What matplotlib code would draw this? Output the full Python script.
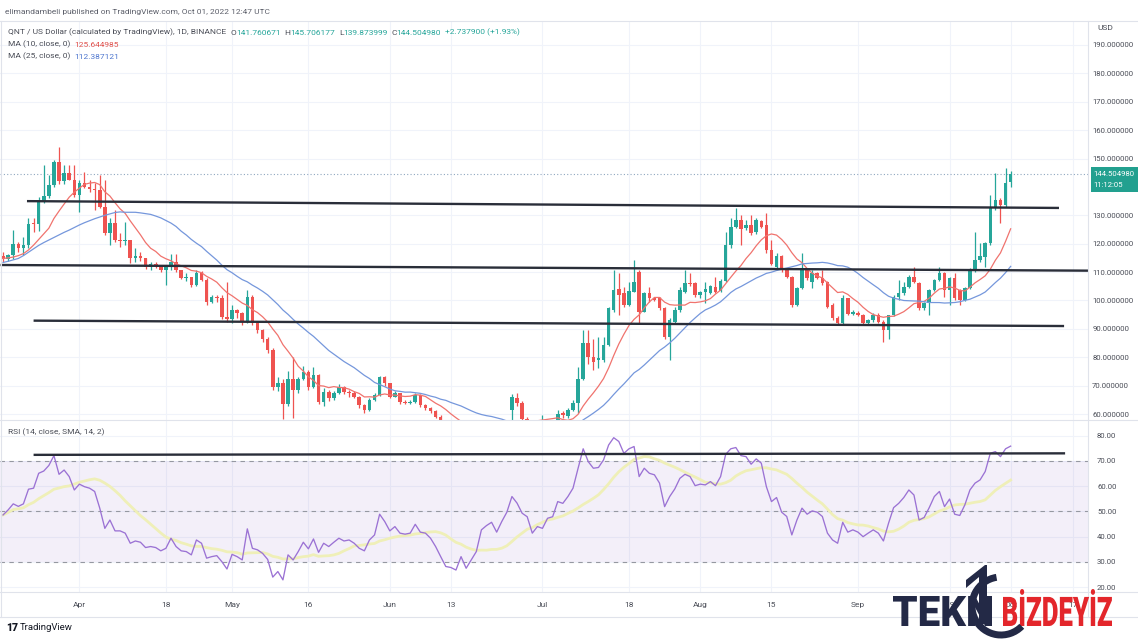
import numpy as np
import pandas as pd
import matplotlib
matplotlib.use("Agg")
import matplotlib.pyplot as plt
from matplotlib.patches import Rectangle, PathPatch, Arc, Polygon
from matplotlib.textpath import TextPath
from matplotlib.font_manager import FontProperties
from matplotlib.transforms import Affine2D
from matplotlib.lines import Line2D

plt.rcParams['font.family'] = ['Roboto', 'DejaVu Sans']

# ---------------- data (QNT/USD daily, 2022-03-17 .. 2022-10-01) ----------------
start_date = "2022-03-17"

opens = [115.5, 114.5, 116.0, 120.0, 118.5, 119.5, 127.0, 126.8, 134.8, 136.8,
         140.7, 148.9, 142.0, 144.8, 142.6, 137.1, 141.3, 140.1, 139.2, 139.0,
         133.1, 123.6, 127.2, 121.3, 120.8, 121.3, 114.8, 115.5, 114.8, 111.9,
         112.8, 112.3, 110.7, 112.1, 113.7, 110.7, 107.8, 108.3, 105.4, 109.6,
         107.2, 99.6, 101.3, 100.8, 94.3, 93.5, 96.6, 95.5, 92.5, 101.3,
         92.0, 89.6, 86.6, 82.5, 69.6, 71.0, 63.7, 72.5, 68.4, 72.5,
         74.9, 69.6, 73.7, 64.3, 67.9, 65.5, 67.3, 69.6, 67.6, 67.3,
         66.1, 63.2, 61.4, 64.9, 66.7, 73.1, 70.8, 66.1, 67.3, 64.3,
         64.0, 64.3, 66.7, 63.2, 62.3, 61.0, 59.0, 56.5, 54.5, 49.0,
         50.5, 51.5, 48.0, 47.0, 48.5, 52.0, 53.0, 54.0, 53.5, 55.0,
         61.4, 65.5, 63.9, 58.4, 57.0, 55.5, 56.0, 56.5, 56.0, 57.5,
         60.2, 59.2, 61.4, 64.0, 72.5, 84.9, 80.2, 79.0, 79.0, 84.3,
         96.6, 103.9, 102.5, 98.4, 103.1, 110.1, 96.0, 102.5, 100.7, 100.7,
         97.2, 87.2, 92.5, 96.6, 103.1, 106.3, 106.0, 101.9, 103.1, 102.7,
         104.8, 103.4, 107.0, 119.5, 126.0, 128.3, 125.4, 126.6, 124.2, 128.1,
         126.6, 117.8, 111.9, 115.6, 110.7, 108.4, 98.4, 104.3, 110.7, 106.6,
         109.6, 107.8, 106.6, 98.4, 93.7, 91.9, 100.7, 95.4, 95.7, 94.9,
         91.9, 93.1, 94.9, 92.5, 89.6, 94.9, 101.3, 102.5, 104.8, 108.4,
         106.0, 97.2, 99.0, 103.7, 107.2, 109.6, 103.7, 107.8, 103.7, 100.2,
         104.3, 110.7, 114.2, 115.4, 120.1, 132.8, 135.4, 133.6, 141.760671]

highs = [117.0, 116.5, 125.0, 120.5, 122.5, 129.0, 129.0, 136.6, 147.7, 144.2,
         149.5, 154.2, 147.7, 147.7, 147.7, 142.4, 145.4, 142.4, 141.3, 144.2,
         142.4, 129.0, 131.8, 123.6, 127.8, 121.3, 118.4, 117.0, 115.0, 113.7,
         113.5, 112.5, 112.3, 116.5, 116.5, 110.7, 109.6, 108.3, 110.7, 110.5,
         107.8, 102.0, 102.0, 101.8, 106.6, 98.5, 97.0, 96.0, 103.7, 101.8,
         92.5, 90.0, 87.0, 83.1, 73.0, 72.5, 75.0, 80.0, 73.0, 77.0,
         75.5, 76.5, 74.0, 69.0, 68.5, 68.0, 70.5, 70.0, 68.5, 68.0,
         66.5, 63.5, 65.5, 67.5, 73.5, 73.5, 71.0, 68.0, 67.5, 65.0,
         65.0, 67.5, 67.0, 63.5, 62.5, 61.5, 59.5, 57.0, 55.0, 52.5,
         53.5, 52.0, 49.5, 50.0, 53.0, 54.5, 55.5, 55.5, 56.0, 57.5,
         67.0, 67.5, 64.5, 58.8, 57.5, 57.0, 59.5, 57.5, 57.8, 61.5,
         61.0, 62.0, 65.0, 76.7, 89.6, 89.6, 86.6, 87.2, 87.2, 97.8,
         110.7, 109.6, 104.8, 106.6, 114.2, 110.7, 103.0, 104.8, 101.0, 101.3,
         97.8, 94.0, 97.8, 104.8, 110.7, 109.6, 106.6, 103.5, 106.6, 105.5,
         108.4, 107.5, 124.2, 128.9, 132.7, 130.1, 128.3, 130.1, 128.9, 128.5,
         130.7, 121.3, 116.6, 116.0, 111.0, 108.6, 104.8, 116.6, 111.0, 110.7,
         110.2, 110.7, 107.0, 99.0, 94.5, 101.9, 101.0, 96.5, 96.2, 95.2,
         93.5, 95.5, 95.5, 93.0, 95.0, 101.8, 107.2, 106.6, 109.0, 111.9,
         106.5, 99.5, 104.2, 107.5, 111.9, 110.0, 108.2, 109.6, 104.0, 104.8,
         111.3, 124.2, 120.1, 120.7, 137.2, 144.8, 136.0, 146.5, 145.706177]

lows = [113.5, 114.0, 114.5, 117.0, 116.0, 118.5, 124.0, 124.5, 134.5, 136.2,
        140.0, 141.2, 141.2, 142.4, 136.6, 131.2, 139.5, 138.3, 131.8, 132.5,
        123.0, 119.5, 120.7, 119.0, 119.5, 113.1, 113.7, 114.0, 111.0, 110.7,
        111.5, 110.0, 105.4, 110.7, 110.2, 107.5, 107.0, 104.8, 105.0, 106.8,
        98.5, 99.0, 99.5, 93.5, 92.5, 92.0, 94.0, 91.5, 92.0, 91.5,
        88.5, 85.5, 81.5, 68.5, 68.0, 58.4, 63.0, 58.5, 67.5, 72.0,
        68.5, 69.0, 63.5, 63.0, 64.5, 65.0, 67.0, 67.0, 66.0, 65.5,
        62.0, 60.5, 61.0, 64.5, 66.5, 70.0, 65.5, 66.0, 63.5, 63.5,
        63.5, 64.0, 62.5, 61.5, 60.5, 58.5, 55.0, 53.0, 47.0, 48.0,
        49.5, 47.0, 45.0, 44.5, 48.0, 51.0, 52.5, 52.5, 53.0, 54.5,
        57.0, 63.0, 57.0, 55.5, 54.5, 55.0, 55.5, 55.0, 55.5, 57.0,
        58.5, 58.5, 61.0, 60.2, 72.0, 77.8, 75.5, 76.1, 78.4, 84.0,
        96.0, 94.9, 97.8, 98.0, 103.0, 91.9, 96.0, 99.6, 99.8, 96.8,
        86.6, 79.0, 92.0, 96.0, 102.5, 105.0, 101.3, 101.0, 99.0, 102.3,
        102.5, 103.0, 106.5, 118.5, 125.5, 119.5, 125.0, 123.1, 123.5, 125.5,
        116.6, 112.5, 110.7, 110.1, 107.8, 97.8, 98.0, 104.0, 107.3, 104.3,
        107.5, 105.5, 97.2, 93.1, 91.2, 91.3, 95.0, 95.0, 94.5, 91.5,
        91.5, 92.5, 92.0, 85.5, 86.6, 94.5, 100.2, 101.9, 104.5, 106.0,
        96.8, 96.6, 94.9, 103.3, 107.0, 101.3, 98.4, 100.2, 98.4, 99.8,
        104.0, 110.2, 113.6, 111.9, 119.5, 131.9, 127.2, 133.0, 139.873999]

closes = [114.5, 116.0, 120.0, 118.5, 119.5, 127.0, 126.8, 134.8, 136.8, 140.7,
          148.9, 142.0, 144.8, 142.6, 137.1, 141.3, 140.1, 139.2, 139.0, 133.1,
          123.6, 127.2, 121.3, 120.8, 121.3, 114.8, 115.5, 114.8, 111.9, 112.8,
          112.3, 110.7, 112.1, 113.7, 110.7, 107.8, 108.3, 105.4, 109.6, 107.2,
          99.6, 101.3, 100.8, 94.3, 93.5, 96.6, 95.5, 92.5, 101.3, 92.0,
          89.6, 86.6, 82.5, 69.6, 71.0, 63.7, 72.5, 68.4, 72.5, 74.9,
          69.6, 73.7, 64.3, 67.9, 65.5, 67.3, 69.6, 67.6, 67.3, 66.1,
          63.2, 61.4, 64.9, 66.7, 73.1, 70.8, 66.1, 67.3, 64.3, 64.0,
          64.3, 66.7, 63.2, 62.3, 61.0, 59.0, 56.5, 54.5, 49.0, 50.5,
          51.5, 48.0, 47.0, 48.5, 52.0, 53.0, 54.0, 53.5, 55.0, 57.0,
          66.1, 63.9, 58.4, 57.0, 55.5, 56.0, 56.5, 56.0, 57.5, 60.0,
          59.6, 61.4, 64.0, 72.5, 84.9, 80.2, 78.4, 79.6, 84.3, 97.2,
          103.7, 101.9, 98.4, 103.3, 106.6, 96.0, 102.7, 100.7, 100.2, 97.2,
          87.2, 93.1, 96.6, 103.7, 106.3, 105.8, 101.9, 103.1, 103.9, 105.1,
          103.1, 107.0, 119.5, 126.0, 128.3, 125.2, 126.6, 123.6, 128.3, 126.0,
          117.8, 113.0, 115.6, 110.7, 108.4, 98.4, 104.3, 110.7, 107.8, 109.6,
          107.8, 106.0, 97.8, 93.7, 91.9, 100.7, 95.4, 96.0, 94.9, 91.9,
          93.1, 94.9, 92.5, 89.6, 94.9, 101.3, 102.7, 104.8, 108.4, 106.6,
          97.2, 99.0, 103.7, 107.2, 109.6, 103.7, 107.8, 100.7, 100.2, 104.3,
          110.7, 114.2, 115.6, 120.1, 132.8, 135.4, 133.6, 141.3, 144.504980]

# moving-average values at the very start of the window (need history before it)
ma10_head = [114.8, 115.0, 115.3, 115.8, 116.5, 117.8, 119.5, 121.5, 123.5]
ma25_head = [113.4, 113.8, 114.3, 114.8, 115.8, 117.0, 118.2, 119.4, 120.4, 121.3,
             122.2, 123.1, 124.0, 124.8, 125.7, 126.6, 127.4, 128.1, 128.8, 129.4,
             130.0, 130.5, 131.0, 131.2]

rsi = [48.6, 50.6, 53.0, 52.0, 53.0, 58.8, 59.2, 65.1, 66.0, 68.2,
       72.1, 64.7, 66.4, 63.8, 58.5, 60.8, 59.8, 59.2, 57.9, 51.3,
       43.3, 46.6, 42.3, 42.3, 41.4, 37.4, 38.3, 37.8, 35.7, 36.1,
       35.7, 34.4, 35.4, 39.4, 36.1, 34.4, 34.1, 32.8, 38.7, 37.4,
       31.5, 32.1, 32.5, 30.1, 27.2, 33.0, 32.1, 30.8, 43.1, 35.4,
       34.8, 33.4, 31.0, 24.0, 26.2, 22.9, 32.8, 30.8, 34.1, 37.8,
       35.2, 39.1, 33.8, 37.4, 36.1, 37.8, 39.4, 38.3, 38.7, 37.4,
       35.4, 34.4, 38.7, 40.7, 48.9, 46.0, 42.3, 44.0, 41.4, 41.0,
       41.4, 44.9, 41.8, 41.4, 39.4, 36.1, 32.1, 28.2, 27.8, 26.8,
       32.1, 27.5, 30.8, 34.1, 42.7, 44.4, 45.7, 41.8, 46.0, 49.7,
       55.9, 53.3, 49.3, 47.9, 41.4, 44.0, 43.3, 47.3, 47.9, 53.9,
       53.2, 55.9, 59.2, 67.1, 74.8, 69.7, 67.1, 67.4, 70.4, 76.3,
       79.2, 77.7, 73.0, 74.8, 75.7, 63.8, 67.1, 65.1, 64.5, 61.2,
       51.9, 55.9, 58.9, 63.1, 64.7, 63.8, 60.2, 60.8, 60.5, 61.8,
       60.2, 63.8, 72.6, 74.8, 75.3, 72.1, 71.7, 68.7, 70.8, 69.1,
       59.8, 53.9, 55.5, 49.7, 48.0, 40.7, 46.6, 51.3, 48.9, 50.2,
       49.7, 48.0, 41.4, 38.7, 37.4, 45.7, 41.8, 42.7, 41.8, 40.0,
       41.4, 42.7, 41.4, 38.3, 45.3, 51.5, 53.2, 55.5, 58.5, 56.5,
       46.6, 47.6, 51.5, 55.9, 57.9, 51.9, 54.9, 48.9, 48.4, 52.6,
       58.5, 61.2, 62.5, 65.8, 73.0, 73.7, 71.7, 74.8, 75.86]

# hand-drawn horizontal levels (bar index, price)
upper_level = [(4.7, 135.0), (207.5, 132.6)]
middle_level = [(-0.5, 112.5), (214.0, 110.5)]
lower_level = [(6.0, 92.9), (208.5, 91.0)]
rsi_level = [(6.0, 72.4), (208.7, 73.0)]

date_labels = ["Apr", "18", "May", "16", "Jun", "13", "Jul", "18", "Aug", "15",
               "Sep", "19", "Oct", "17"]
date_ticks = ["2022-04-01", "2022-04-18", "2022-05-01", "2022-05-16", "2022-06-01",
              "2022-06-13", "2022-07-01", "2022-07-18", "2022-08-01", "2022-08-15",
              "2022-09-01", "2022-09-19", "2022-10-01", "2022-10-17"]
price_ticks = [60, 70, 80, 90, 100, 110, 120, 130, 150, 160, 170, 180, 190]
rsi_ticks = [20, 30, 40, 50, 60, 70, 80]

# ---------------- style ----------------
GREEN = "#26a69a"
RED = "#ef5350"
MA10_C = "#f0736e"
MA25_C = "#7597dc"
RSI_C = "#9b72d4"
RSI_MA_C = "#efefb8"
TEXT = "#4a4d57"
GRID = "#f0f3fa"
BORDER = "#e0e3eb"
FS = 6.0

W, H = 1138, 640
fig = plt.figure(figsize=(W / 100, H / 100), dpi=100)
fig.patch.set_facecolor("white")


def fx(px):
    return px / W


def fy(py):
    return 1 - py / H


PLOT_R = 1088
ax = fig.add_axes([0, fy(420), fx(PLOT_R), fy(22) - fy(420)])
ax2 = fig.add_axes([0, fy(592), fx(PLOT_R), fy(420) - fy(592)], sharex=ax)

o = np.array(opens)
h = np.array(highs)
l = np.array(lows)
c = np.array(closes)
n = len(c)
idx = np.arange(n)
dates = pd.date_range(start_date, periods=n, freq="D")

up = c >= o
cols = np.where(up, GREEN, RED)
ax.vlines(idx, l, h, colors=cols, lw=0.9, zorder=3)
ax.bar(idx, np.maximum(np.abs(c - o), 0.35), bottom=np.minimum(o, c), width=0.7,
       color=cols, lw=0, zorder=4)

s = pd.Series(c)
ma10 = s.rolling(10).mean().to_numpy()
ma10[:len(ma10_head)] = ma10_head
ma25 = s.rolling(25).mean().to_numpy()
ma25[:len(ma25_head)] = ma25_head
ax.plot(idx, ma10, color=MA10_C, lw=0.9, zorder=5)
ax.plot(idx, ma25, color=MA25_C, lw=0.9, zorder=5)

for lev in (upper_level, middle_level, lower_level):
    (x0, y0), (x1, y1) = lev
    ax.plot([x0, x1], [y0, y1], color="#2a2e39", lw=1.7, zorder=6, solid_capstyle="butt")

ax.axhline(c[-1], color="#8fa7bf", lw=0.8, ls=(0, (1, 2)), zorder=2)

XL = (-0.6, 213.2)
ax.set_xlim(*XL)
ax.set_ylim(57.9, 198.1)

# date positions (TradingView keeps the last label inside the pane)
tick_pos = np.array([(pd.Timestamp(d) - dates[0]).days for d in date_ticks], dtype=float)
tick_pos = np.minimum(tick_pos, 210.3)

for a in (ax, ax2):
    a.set_xticks(tick_pos)
    a.grid(True, color=GRID, lw=0.8, zorder=0)
    a.set_axisbelow(True)
    for sp in a.spines.values():
        sp.set_visible(False)
    a.tick_params(length=0)
    a.yaxis.tick_right()

ax.tick_params(axis="x", labelbottom=False)
ax.set_yticks(price_ticks)
ax.set_yticklabels([f"{v:.6f}" for v in price_ticks], fontsize=FS * 0.93, color=TEXT)
ax.tick_params(axis="y", pad=3.0)

# RSI panel
r = pd.Series(rsi)
rsi_ma = r.rolling(14, min_periods=1).mean().to_numpy()
ax2.axhspan(30, 70, color="#7e57c2", alpha=0.09, lw=0, zorder=1)
for lv in (70, 50, 30):
    ax2.axhline(lv, color="#9598a1", lw=0.8, ls=(0, (4, 4)), zorder=2)
ax2.plot(idx, rsi_ma, color=RSI_MA_C, lw=2.0, zorder=3)
ax2.plot(idx, r.to_numpy(), color=RSI_C, lw=0.95, zorder=4)
(x0, y0), (x1, y1) = rsi_level
ax2.plot([x0, x1], [y0, y1], color="#2a2e39", lw=1.7, zorder=6, solid_capstyle="butt")
ax2.set_ylim(18.1, 86.2)
ax2.set_yticks(rsi_ticks)
ax2.set_yticklabels([f"{v:.2f}" for v in rsi_ticks], fontsize=FS * 0.93, color=TEXT)
ax2.tick_params(axis="y", pad=6.5)
ax2.set_xticklabels(date_labels, fontsize=FS, color=TEXT)
ax2.tick_params(axis="x", pad=7)
ax2.set_xlim(*XL)


# borders
def hline(y, x0=0, x1=W, color=BORDER, lw=0.8):
    fig.add_artist(Line2D([fx(x0), fx(x1)], [fy(y), fy(y)], color=color, lw=lw))


def vline(x, y0, y1, color=BORDER, lw=0.8):
    fig.add_artist(Line2D([fx(x), fx(x)], [fy(y0), fy(y1)], color=color, lw=lw))


hline(20.5)
hline(420)
hline(592)
hline(617)
vline(PLOT_R, 20.5, 617)
vline(0.5, 20.5, 617)


# ---------------- texts ----------------
def seq_text(x_px, y_px, pieces, size=FS):
    prev = None
    for txt, col, gap in pieces:
        if prev is None:
            prev = fig.text(fx(x_px), fy(y_px), txt, color=col, fontsize=size,
                            ha="left", va="bottom")
        else:
            prev = ax.annotate(txt, xy=(1, 0), xycoords=prev, xytext=(gap, 0),
                               textcoords="offset points", ha="left", va="bottom",
                               fontsize=size, color=col, annotation_clip=False)
    return prev


fig.text(fx(5), fy(15), "elimandambeli published on TradingView.com, Oct 01, 2022 12:47 UTC",
         fontsize=FS, color="#5d606b", ha="left", va="bottom")
seq_text(8, 36, [("QNT / US Dollar (calculated by TradingView), 1D, BINANCE", TEXT, 0),
                 ("O", TEXT, 3.2), ("141.760671", GREEN, 0),
                 ("H", TEXT, 2.6), ("145.706177", GREEN, 0),
                 ("L", TEXT, 2.6), ("139.873999", GREEN, 0),
                 ("C", TEXT, 2.6), ("144.504980", GREEN, 0),
                 ("+2.737900 (+1.93%)", GREEN, 2.6)])
seq_text(8, 48, [("MA (10, close, 0)", TEXT, 0), ("125.644985", "#e0514c", 3.0)])
seq_text(8, 60, [("MA (25, close, 0)", TEXT, 0), ("112.387121", "#4f77cf", 3.0)])
seq_text(8, 436, [("RSI (14, close, SMA, 14, 2)", TEXT, 0), ("75.86", RSI_C, 3.0),
                  ("61.88", "#d8d870", 3.0), ("\u2205  \u2205", TEXT, 3.0)])

fig.text(fx(1097), fy(28), "USD", fontsize=FS, color=TEXT, ha="left", va="center")

# last price box
fig.add_artist(Rectangle((fx(1091), fy(192)), fx(W - 1091), fy(167) - fy(192),
                         transform=fig.transFigure, color="#22a08f", lw=0, zorder=5))
fig.text(fx(1093), fy(174), "144.504980", fontsize=FS * 0.93, color="white", ha="left",
         va="center", zorder=6)
fig.text(fx(1093), fy(185), "11:12:05", fontsize=FS * 0.93, color="white", ha="left",
         va="center", zorder=6)

# TradingView footer
fig.text(fx(6), fy(628), "17", fontsize=7.5, color="#131722", fontweight="black",
         ha="left", va="center")
fig.text(fx(20), fy(628), "TradingView", fontsize=6.8, color="#131722", ha="left",
         va="center")


# watermark
def text_in_box(txt, x0, y0, x1, y1, color, weight="black"):
    tp = TextPath((0, 0), txt, size=1, prop=FontProperties(family="Roboto", weight=weight))
    ext = tp.get_extents()
    sx = (x1 - x0) / ext.width
    sy = (y1 - y0) / ext.height
    tr = Affine2D().translate(-ext.x0, -ext.y0).scale(sx, sy).translate(x0, H - y1)
    p = PathPatch(tp, facecolor=color, edgecolor="none", transform=tr, zorder=20)
    fig.add_artist(p)


NAVY = "#232946"
text_in_box("TEKN", 893, 596, 992, 626, NAVY)
text_in_box("BİZDEYİZ", 1003, 589, 1112, 626, "#e3262b")
fig.add_artist(Arc((fx(1001), fy(606)), fx(58), fy(0) - fy(58), theta1=95, theta2=300,
                   transform=fig.transFigure, color=NAVY, lw=5, zorder=20))
fig.add_artist(Polygon([(fx(979), fy(624)), (fx(979), fy(577)), (fx(966), fy(588)),
                        (fx(966), fy(580)), (fx(985), fy(565)), (fx(987), fy(565)),
                        (fx(987), fy(624))], closed=True, transform=fig.transFigure,
                       color=NAVY, lw=0, zorder=21))

fig.savefig("out.png", dpi=100, facecolor="white")
